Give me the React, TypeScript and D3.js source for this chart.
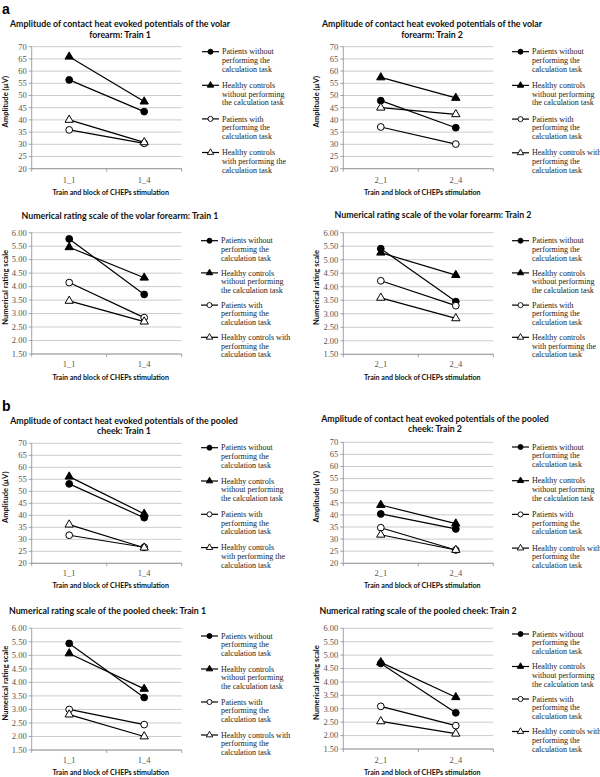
import React from 'react';
import * as d3 from 'd3';

// ---------- data ----------
const categoriesTrain1 = ['1_1', '1_4'];
const categoriesTrain2 = ['2_1', '2_4'];
const ampTicks = [20, 25, 30, 35, 40, 45, 50, 55, 60, 65, 70];
const nrsTicks = [1.5, 2.0, 2.5, 3.0, 3.5, 4.0, 4.5, 5.0, 5.5, 6.0];

// series order: patients without, healthy controls without, patients with, healthy controls with
const seriesMarkers = ['circle', 'triangle', 'circle', 'triangle'];
const seriesFilled = [true, true, false, false];

const volarAmpTrain1 = [[56.4, 43.4], [65.9, 47.5], [35.9, 30.4], [40.0, 30.8]];
const volarAmpTrain2 = [[47.9, 36.8], [57.4, 49.0], [37.1, 30.1], [45.0, 42.3]];
const volarNrsTrain1 = [[5.77, 3.71], [5.46, 4.33], [4.15, 2.85], [3.47, 2.70]];
const volarNrsTrain2 = [[5.41, 3.45], [5.26, 4.43], [4.22, 3.30], [3.59, 2.83]];
const cheekAmpTrain1 = [[53.1, 39.0], [56.1, 40.6], [31.7, 26.7], [36.1, 26.5]];
const cheekAmpTrain2 = [[40.4, 34.2], [44.1, 36.4], [34.7, 25.5], [31.8, 25.5]];
const cheekNrsTrain1 = [[5.44, 3.44], [5.07, 3.76], [3.00, 2.44], [2.81, 2.00]];
const cheekNrsTrain2 = [[4.69, 2.85], [4.73, 3.43], [3.09, 2.37], [2.53, 2.07]];

const legendA = [
  ['Patients without', 'performing the', 'calculation task'],
  ['Healthy controls', 'without performing', 'the calculation task'],
  ['Patients with', 'performing the', 'calculation task'],
  ['Healthy controls', 'with performing the', 'calculation task'],
];
const legendB = [
  ['Patients without', 'performing the', 'calculation task'],
  ['Healthy controls', 'without performing', 'the calculation task'],
  ['Patients with', 'performing the', 'calculation task'],
  ['Healthy controls with', 'performing the', 'calculation task'],
];

const ampLabel = 'Amplitude (\u00b5V)';
const nrsLabel = 'Numerical rating scale';
const xTitle = 'Train and block of CHEPs stimulation';

// ---------- layout ----------
const SERIF = '"Liberation Serif", "Times New Roman", serif';
const SANS = 'Lato, "Open Sans", sans-serif';

type PanelProps = {
  left: number; top: number; bottom: number;
  titleLines: string[]; titleY: number; titleCx: number;
  categories: string[]; data: number[][];
  ticks: number[]; domain: [number, number]; fmt: (v: number) => string;
  yLabel: string; yLabelX: number;
  xTickY: number; xTitleY: number;
  legend: string[][]; legendX: number; legendY: number; legendGap: number;
};

function marker(kind: string, size: number) {
  const sym = kind === 'circle' ? d3.symbolCircle : d3.symbolTriangle;
  return d3.symbol().type(sym).size(size)() as string;
}

function Panel(p: PanelProps) {
  const width = 150;
  const right = p.left + width;
  const x = d3.scaleBand<string>().domain(p.categories).range([p.left, right]);
  const y = d3.scaleLinear().domain(p.domain).range([p.bottom, p.top]);
  const line = d3.line<number>()
    .x((_, i) => (x(p.categories[i]) as number) + x.bandwidth() / 2)
    .y(d => y(d));
  const gridColor = '#bfbfbf';
  const axisColor = '#8c8c8c';
  return (
    <g>
      {p.titleLines.map((t, i) => (
        <text key={i} x={p.titleCx} y={p.titleY + i * 10.5} textAnchor="middle"
          fontFamily={SANS} fontWeight="bold" fontSize={8.8} fill="#111">{t}</text>
      ))}
      {p.ticks.map(t => (
        <g key={t}>
          <line x1={p.left} x2={right} y1={y(t)} y2={y(t)} stroke={gridColor} strokeWidth={0.8} />
          <line x1={p.left - 3} x2={p.left} y1={y(t)} y2={y(t)} stroke={axisColor} strokeWidth={0.8} />
          <text x={p.left - 5} y={y(t)} dy="0.33em" textAnchor="end" fontFamily={SERIF}
            fontSize={8.5} fill="#555">{p.fmt(t)}</text>
        </g>
      ))}
      <line x1={p.left} x2={p.left} y1={p.top} y2={p.bottom} stroke={axisColor} strokeWidth={0.8} />
      <line x1={p.left} x2={right} y1={p.bottom} y2={p.bottom} stroke={axisColor} strokeWidth={0.8} />
      {[p.left, p.left + x.bandwidth(), right].map((tx, i) => (
        <line key={i} x1={tx} x2={tx} y1={p.bottom} y2={p.bottom + 3} stroke={axisColor} strokeWidth={0.8} />
      ))}
      {p.categories.map(c => (
        <text key={c} x={(x(c) as number) + x.bandwidth() / 2} y={p.xTickY} dy="0.33em" textAnchor="middle"
          fontFamily={SERIF} fontSize={8.5} fill="#555">{c}</text>
      ))}
      <text x={p.left + width / 2 + 4} y={p.xTitleY} dy="0.33em" textAnchor="middle" fontFamily={SANS}
        fontWeight="bold" fontSize={7.1} fill="#111">{xTitle}</text>
      <text transform={`translate(${p.yLabelX},${(p.top + p.bottom) / 2 - 6}) rotate(-90)`} textAnchor="middle"
        dy="0.33em" fontFamily={SANS} fontWeight="bold" fontSize={7.6} fill="#111">{p.yLabel}</text>
      {p.data.map((vals, si) => (
        <g key={si}>
          <path d={line(vals) as string} fill="none" stroke="#000" strokeWidth={1.2} />
          {vals.map((v, i) => (
            <path key={i} d={marker(seriesMarkers[si], seriesMarkers[si] === 'circle' ? 36 : 30)}
              transform={`translate(${(x(p.categories[i]) as number) + x.bandwidth() / 2},${y(v)})`}
              fill={seriesFilled[si] ? '#000' : '#fff'} stroke="#000" strokeWidth={1} />
          ))}
        </g>
      ))}
      {p.legend.map((lines, si) => {
        const ly = p.legendY + si * p.legendGap;
        return (
          <g key={si}>
            <line x1={p.legendX} x2={p.legendX + 17} y1={ly} y2={ly} stroke="#000" strokeWidth={1.2} />
            <path d={marker(seriesMarkers[si], seriesMarkers[si] === 'circle' ? 20 : 18)}
              transform={`translate(${p.legendX + 8.5},${ly})`}
              fill={seriesFilled[si] ? '#000' : '#fff'} stroke="#000" strokeWidth={0.9} />
            {lines.map((t, li) => (
              <text key={li} x={p.legendX + 20} y={ly + li * 8.7} dy="0.33em" fontFamily={SERIF}
                fontSize={8} fill="#222">{t}</text>
            ))}
          </g>
        );
      })}
    </g>
  );
}

const f0 = (v: number) => d3.format('d')(v);
const f2 = (v: number) => d3.format('.2f')(v);

export default function App() {
  return (
    <svg width={600} height={777} style={{ position: 'absolute', left: 0, top: 0, background: '#fff' }}>
      <rect width={600} height={777} fill="#fff" />
      <text x={2} y={14} fontFamily="Arial, sans-serif" fontWeight="bold" fontSize={14} fill="#000">a</text>
      <text x={2} y={411} fontFamily="Arial, sans-serif" fontWeight="bold" fontSize={14} fill="#000">b</text>
      <Panel left={31.7} top={46.7} bottom={168.7}
        titleLines={['Amplitude of contact heat evoked potentials of the volar', 'forearm: Train 1']}
        titleY={27} titleCx={120} categories={categoriesTrain1} data={volarAmpTrain1}
        ticks={ampTicks} domain={[20, 70]} fmt={f0} yLabel={ampLabel} yLabelX={5}
        xTickY={180} xTitleY={193} legend={legendA} legendX={202} legendY={51.7} legendGap={33.6} />
      <Panel left={343.3} top={46.7} bottom={168.7}
        titleLines={['Amplitude of contact heat evoked potentials of the volar', 'forearm: Train 2']}
        titleY={27} titleCx={432} categories={categoriesTrain2} data={volarAmpTrain2}
        ticks={ampTicks} domain={[20, 70]} fmt={f0} yLabel={ampLabel} yLabelX={316}
        xTickY={180} xTitleY={193} legend={legendB} legendX={512} legendY={51.7} legendGap={33.7} />
      <Panel left={31.7} top={232.7} bottom={354}
        titleLines={['Numerical rating scale of the volar forearm: Train 1']}
        titleY={219} titleCx={120} categories={categoriesTrain1} data={volarNrsTrain1}
        ticks={nrsTicks} domain={[1.5, 6]} fmt={f2} yLabel={nrsLabel} yLabelX={5}
        xTickY={364} xTitleY={378} legend={legendB} legendX={201} legendY={240.7} legendGap={32.2} />
      <Panel left={343.3} top={232.7} bottom={354.3}
        titleLines={['Numerical rating scale of the volar forearm: Train 2']}
        titleY={218} titleCx={433} categories={categoriesTrain2} data={volarNrsTrain2}
        ticks={nrsTicks} domain={[1.5, 6]} fmt={f2} yLabel={nrsLabel} yLabelX={316}
        xTickY={364} xTitleY={378} legend={legendA} legendX={512} legendY={240.7} legendGap={32.2} />
      <Panel left={31.7} top={443.3} bottom={563.3}
        titleLines={['Amplitude of contact heat evoked potentials of the pooled', 'cheek: Train 1']}
        titleY={423.5} titleCx={124} categories={categoriesTrain1} data={cheekAmpTrain1}
        ticks={ampTicks} domain={[20, 70]} fmt={f0} yLabel={ampLabel} yLabelX={5}
        xTickY={573.3} xTitleY={586} legend={legendA} legendX={201} legendY={447.7} legendGap={33.3} />
      <Panel left={343.3} top={442.3} bottom={563.3}
        titleLines={['Amplitude of contact heat evoked potentials of the pooled', 'cheek: Train 2']}
        titleY={421.5} titleCx={435} categories={categoriesTrain2} data={cheekAmpTrain2}
        ticks={ampTicks} domain={[20, 70]} fmt={f0} yLabel={ampLabel} yLabelX={316}
        xTickY={573.3} xTitleY={586} legend={legendB} legendX={512} legendY={447} legendGap={33.7} />
      <Panel left={31.7} top={628.3} bottom={750}
        titleLines={['Numerical rating scale of the pooled cheek: Train 1']}
        titleY={614} titleCx={107.5} categories={categoriesTrain1} data={cheekNrsTrain1}
        ticks={nrsTicks} domain={[1.5, 6]} fmt={f2} yLabel={nrsLabel} yLabelX={5}
        xTickY={760} xTitleY={772.7} legend={legendB} legendX={201} legendY={636} legendGap={33} />
      <Panel left={343.3} top={628.3} bottom={749}
        titleLines={['Numerical rating scale of the pooled cheek: Train 2']}
        titleY={614} titleCx={418} categories={categoriesTrain2} data={cheekNrsTrain2}
        ticks={nrsTicks} domain={[1.5, 6]} fmt={f2} yLabel={nrsLabel} yLabelX={316}
        xTickY={760} xTitleY={772.7} legend={legendB} legendX={512} legendY={634} legendGap={32.5} />
    </svg>
  );
}
